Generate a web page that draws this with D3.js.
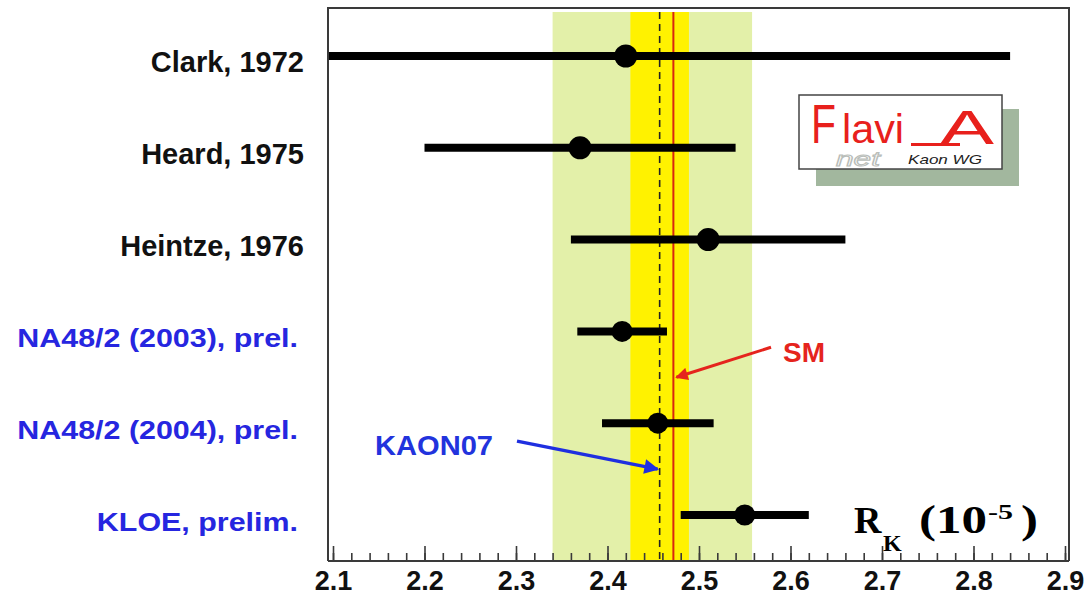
<!DOCTYPE html>
<html>
<head>
<meta charset="utf-8">
<script src="https://cdn.jsdelivr.net/npm/d3@7"></script>
<style>
  html, body { margin: 0; padding: 0; background: #fff; }
  svg { display: block; }
</style>
</head>
<body>
<svg id="chart" width="1087" height="595"></svg>
<script>
// R_K measurements (units of 1e-5)
const experiments = ["Clark, 1972", "Heard, 1975", "Heintze, 1976",
                     "NA48/2 (2003), prel.", "NA48/2 (2004), prel.", "KLOE, prelim."];
const rkValues = [2.42, 2.37, 2.51, 2.416, 2.455, 2.55];
const rkErrors = [0.42, 0.17, 0.15, 0.049, 0.061, 0.07];
const isRecent = [false, false, false, true, true, true];

// World average (KAON07) and Standard Model prediction
const kaonAvg = 2.457;
const kaonErr = 0.032;
const outerBand = [2.34, 2.558];
const smValue = 2.472;

const tickValues = [2.1, 2.2, 2.3, 2.4, 2.5, 2.6, 2.7, 2.8, 2.9];

const svg = d3.select("#chart");
const sans = "'Liberation Sans', Arial, Helvetica, sans-serif";
const serif = "'Liberation Serif', 'Times New Roman', serif";

const frame = { left: 328, right: 1069, top: 8, bottom: 561 };
const x = d3.scaleLinear().domain([2.1, 2.9]).range([333, 1065]);
const y = d3.scalePoint().domain(experiments).range([56, 515]);

const defs = svg.append("defs");
defs.append("clipPath").attr("id", "plotClip")
  .append("rect")
  .attr("x", frame.left + 1).attr("y", frame.top)
  .attr("width", frame.right - frame.left - 2)
  .attr("height", frame.bottom - frame.top);

const plot = svg.append("g").attr("clip-path", "url(#plotClip)");
const bandTop = frame.top + 4;

// bands
plot.append("rect")
  .attr("x", x(outerBand[0])).attr("y", bandTop)
  .attr("width", x(outerBand[1]) - x(outerBand[0]))
  .attr("height", frame.bottom - bandTop)
  .attr("fill", "#e3f0a9");
plot.append("rect")
  .attr("x", x(kaonAvg - kaonErr)).attr("y", bandTop)
  .attr("width", x(kaonAvg + kaonErr) - x(kaonAvg - kaonErr))
  .attr("height", frame.bottom - bandTop)
  .attr("fill", "#fff200");

// average (dashed) and SM (red) lines
plot.append("line")
  .attr("x1", x(kaonAvg)).attr("x2", x(kaonAvg))
  .attr("y1", bandTop).attr("y2", frame.bottom)
  .attr("stroke", "#222").attr("stroke-width", 1.6)
  .attr("stroke-dasharray", "7,5");
plot.append("line")
  .attr("x1", x(smValue)).attr("x2", x(smValue))
  .attr("y1", bandTop).attr("y2", frame.bottom)
  .attr("stroke", "#d8260f").attr("stroke-width", 2);

// error bars
plot.selectAll("line.err").data(experiments).join("line")
  .attr("class", "err")
  .attr("x1", (d, i) => x(rkValues[i] - rkErrors[i]))
  .attr("x2", (d, i) => x(rkValues[i] + rkErrors[i]))
  .attr("y1", d => y(d)).attr("y2", d => y(d))
  .attr("stroke", "#000").attr("stroke-width", 8);

plot.selectAll("circle.pt").data(experiments).join("circle")
  .attr("class", "pt")
  .attr("cx", (d, i) => x(rkValues[i]))
  .attr("cy", d => y(d))
  .attr("r", (d, i) => isRecent[i] ? 10.5 : 11.5)
  .attr("fill", "#000");

// experiment labels (recent ones in a wider blue face)
svg.selectAll("text.exp").data(experiments).join("text")
  .attr("class", "exp")
  .attr("x", (d, i) => isRecent[i] ? 298 : 304)
  .attr("y", d => y(d) + 16)
  .attr("text-anchor", "end")
  .attr("font-family", sans)
  .attr("font-weight", "bold")
  .attr("font-size", (d, i) => isRecent[i] ? 26 : 29)
  .attr("fill", (d, i) => isRecent[i] ? "#2626e0" : "#111")
  .text(d => d)
  .each(function(d, i) {
    if (isRecent[i]) {
      const w = this.getComputedTextLength();
      d3.select(this).attr("textLength", w * 1.17).attr("lengthAdjust", "spacingAndGlyphs");
    }
  });

// frame
const frameColor = "#3a3a3a";
svg.append("path")
  .attr("d", `M${frame.left},${frame.bottom} V${frame.top} H${frame.right} V${frame.bottom}`)
  .attr("fill", "none").attr("stroke", frameColor).attr("stroke-width", 2);

// x axis: minor ticks every 0.02, major every 0.1, pointing inward
const minorAxis = d3.axisBottom(x)
  .tickValues(d3.range(0, 41).map(k => 2.1 + k * 0.02))
  .tickSizeInner(-8).tickSizeOuter(0).tickFormat("");
const gMinor = svg.append("g").attr("transform", `translate(0,${frame.bottom})`).call(minorAxis);
gMinor.select(".domain").remove();
gMinor.selectAll(".tick line").attr("stroke", frameColor).attr("stroke-width", 1.6);

const majorAxis = d3.axisBottom(x)
  .tickValues(tickValues)
  .tickSizeInner(-15).tickSizeOuter(0).tickPadding(10)
  .tickFormat(d3.format(".1f"));
const gMajor = svg.append("g").attr("transform", `translate(0,${frame.bottom})`).call(majorAxis);
gMajor.select(".domain").remove();
gMajor.selectAll(".tick line").attr("stroke", frameColor).attr("stroke-width", 1.6);
gMajor.selectAll(".tick text")
  .attr("font-family", sans).attr("font-weight", "bold")
  .attr("font-size", 27).attr("fill", "#111")
  .attr("dy", "0.71em");

svg.append("line")
  .attr("x1", frame.left).attr("x2", frame.right)
  .attr("y1", frame.bottom).attr("y2", frame.bottom)
  .attr("stroke", frameColor).attr("stroke-width", 2.2);

// axis title R_K (10^-5)
const title = svg.append("g").attr("fill", "#000").attr("font-family", serif).attr("font-weight", "bold");
title.append("text").attr("x", 854).attr("y", 533).attr("font-size", 38).text("R");
title.append("text").attr("x", 883).attr("y", 551).attr("font-size", 24).text("K");
title.append("text").attr("x", 919).attr("y", 533).attr("font-size", 40)
  .attr("textLength", 68).attr("lengthAdjust", "spacingAndGlyphs").text("(10");
title.append("text").attr("x", 988).attr("y", 519).attr("font-size", 22)
  .attr("textLength", 25).attr("lengthAdjust", "spacingAndGlyphs").text("-5");
title.append("text").attr("x", 1021).attr("y", 533).attr("font-size", 40)
  .attr("textLength", 17).attr("lengthAdjust", "spacingAndGlyphs").text(")");

// arrow markers
function arrowHead(id, color) {
  defs.append("marker").attr("id", id)
    .attr("viewBox", "0 0 10 10").attr("refX", 9).attr("refY", 5)
    .attr("markerWidth", 5).attr("markerHeight", 4.2)
    .attr("markerUnits", "strokeWidth")
    .attr("orient", "auto")
    .append("path").attr("d", "M0,0 L10,5 L0,10 Z").attr("fill", color);
}
arrowHead("arrowRed", "#e5241d");
arrowHead("arrowBlue", "#1f2fe0");

// SM annotation
const smTipY = (y(experiments[3]) + y(experiments[4])) / 2;
svg.append("line")
  .attr("x1", 771).attr("y1", smTipY - 30)
  .attr("x2", x(smValue) + 3).attr("y2", smTipY)
  .attr("stroke", "#e5241d").attr("stroke-width", 3)
  .attr("marker-end", "url(#arrowRed)");
svg.append("text")
  .attr("x", 783).attr("y", smTipY - 15)
  .attr("font-family", sans).attr("font-weight", "bold").attr("font-size", 28)
  .attr("fill", "#e5241d").text("SM");

// KAON07 annotation
const kTipY = (y(experiments[4]) + y(experiments[5])) / 2;
svg.append("line")
  .attr("x1", 517).attr("y1", kTipY - 28)
  .attr("x2", x(kaonAvg) - 2).attr("y2", kTipY)
  .attr("stroke", "#1f2fe0").attr("stroke-width", 3.5)
  .attr("marker-end", "url(#arrowBlue)");
svg.append("text")
  .attr("x", 375).attr("y", kTipY - 14)
  .attr("font-family", sans).attr("font-weight", "bold").attr("font-size", 28)
  .attr("fill", "#2233dd")
  .attr("textLength", 118).attr("lengthAdjust", "spacingAndGlyphs").text("KAON07");

// FlaviA net logo
const logo = svg.append("g");
logo.append("rect").attr("x", 816).attr("y", 109).attr("width", 203).attr("height", 77)
  .attr("fill", "#a2b79e");
logo.append("rect").attr("x", 799).attr("y", 95).attr("width", 203).attr("height", 74)
  .attr("fill", "#fff").attr("stroke", "#444").attr("stroke-width", 1.5);
logo.append("text").attr("x", 811).attr("y", 143).attr("font-family", sans)
  .attr("font-size", 56).attr("fill", "#e8201c")
  .attr("textLength", 25).attr("lengthAdjust", "spacingAndGlyphs").text("F");
logo.append("text").attr("x", 842).attr("y", 143).attr("font-family", sans)
  .attr("font-size", 40).attr("fill", "#e8201c")
  .attr("textLength", 62).attr("lengthAdjust", "spacingAndGlyphs").text("lavi");
logo.append("line").attr("x1", 911).attr("x2", 960).attr("y1", 144.5).attr("y2", 144.5)
  .attr("stroke", "#e8201c").attr("stroke-width", 3);
logo.append("text").attr("x", 940).attr("y", 144).attr("font-family", sans)
  .attr("font-size", 48).attr("fill", "#e8201c")
  .attr("textLength", 54).attr("lengthAdjust", "spacingAndGlyphs").text("A");
logo.append("text").attr("x", 836).attr("y", 166).attr("font-family", sans)
  .attr("font-size", 20).attr("font-style", "italic")
  .attr("fill", "#fff").attr("stroke", "#b9bdb9").attr("stroke-width", 1)
  .attr("textLength", 44).attr("lengthAdjust", "spacingAndGlyphs").text("net");
logo.append("text").attr("x", 908).attr("y", 164).attr("font-family", sans)
  .attr("font-size", 13).attr("font-style", "italic").attr("fill", "#222")
  .attr("textLength", 74).attr("lengthAdjust", "spacingAndGlyphs").text("Kaon WG");
</script>
</body>
</html>
